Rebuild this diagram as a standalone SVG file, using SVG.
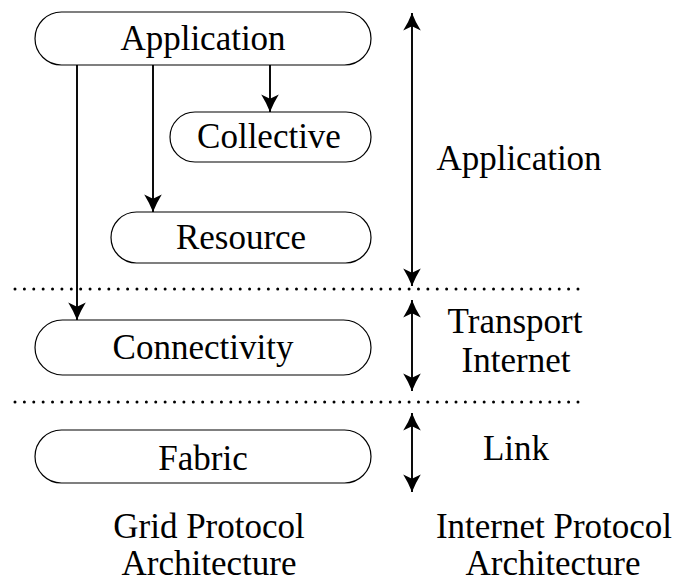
<svg xmlns="http://www.w3.org/2000/svg" width="676" height="582" viewBox="0 0 676 582">
  <style>
    .box { fill: #ffffff; stroke: #000000; stroke-width: 1.2; }
    .lbl { font-family: "Liberation Serif", "Times New Roman", serif; font-size: 35px; fill: #000000; text-anchor: middle; }
    .edge { stroke: #000000; stroke-width: 1.9; fill: none; }
    .dots { stroke: #000000; stroke-width: 3; stroke-linecap: round; stroke-dasharray: 0 9.383; fill: none; }
  </style>
  <defs>
    <!-- concave arrowhead, used at both ends of the span arrows -->
    <marker id="head" markerUnits="userSpaceOnUse" markerWidth="22" markerHeight="22" viewBox="-17 -10 19 20" refX="0" refY="0" orient="auto-start-reverse">
      <path d="M0,0 Q-8,-3 -16,-8 L-12,0 L-16,8 Q-8,3 0,0 Z" fill="#000000"/>
    </marker>
  </defs>

  <!-- layer separators -->
  <g id="separators">
    <line class="dots" x1="15" y1="289" x2="578" y2="289"/>
    <line class="dots" x1="15" y1="402" x2="578" y2="402"/>
  </g>

  <!-- grid protocol layers -->
  <g id="node-application">
    <rect class="box" x="35" y="12" width="336" height="53" rx="26.5"/>
    <text class="lbl" x="203" y="50">Application</text>
  </g>
  <g id="node-collective">
    <rect class="box" x="170" y="112" width="201" height="50" rx="25"/>
    <text class="lbl" x="269" y="148">Collective</text>
  </g>
  <g id="node-resource">
    <rect class="box" x="111" y="212" width="260" height="51" rx="25.5"/>
    <text class="lbl" x="241" y="249">Resource</text>
  </g>
  <g id="node-connectivity">
    <rect class="box" x="35" y="320" width="336" height="55" rx="27.5"/>
    <text class="lbl" x="203" y="359">Connectivity</text>
  </g>
  <g id="node-fabric">
    <rect class="box" x="35" y="430" width="336" height="53" rx="26.5"/>
    <text class="lbl" x="203" y="470">Fabric</text>
  </g>

  <!-- internet protocol layers -->
  <g id="ip-labels">
    <text class="lbl" x="519" y="170">Application</text>
    <text class="lbl" x="515" y="333">Transport</text>
    <text class="lbl" x="516" y="372">Internet</text>
    <text class="lbl" x="516" y="460">Link</text>
  </g>

  <!-- captions -->
  <g id="captions">
    <text class="lbl" x="209" y="538">Grid Protocol</text>
    <text class="lbl" x="209" y="575">Architecture</text>
    <text class="lbl" x="554" y="538">Internet Protocol</text>
    <text class="lbl" x="553" y="575">Architecture</text>
  </g>

  <!-- calls from the application layer, and internet protocol spans -->
  <g id="connectors">
    <line class="edge" x1="77" y1="65" x2="77" y2="320" marker-end="url(#head)"/>
    <line class="edge" x1="153" y1="65" x2="153" y2="212" marker-end="url(#head)"/>
    <line class="edge" x1="270" y1="65" x2="270" y2="112" marker-end="url(#head)"/>
    <line class="edge" x1="412" y1="13" x2="412" y2="286" marker-start="url(#head)" marker-end="url(#head)"/>
    <line class="edge" x1="412" y1="300" x2="412" y2="391" marker-start="url(#head)" marker-end="url(#head)"/>
    <line class="edge" x1="412" y1="413" x2="412" y2="492" marker-start="url(#head)" marker-end="url(#head)"/>
  </g>
</svg>
